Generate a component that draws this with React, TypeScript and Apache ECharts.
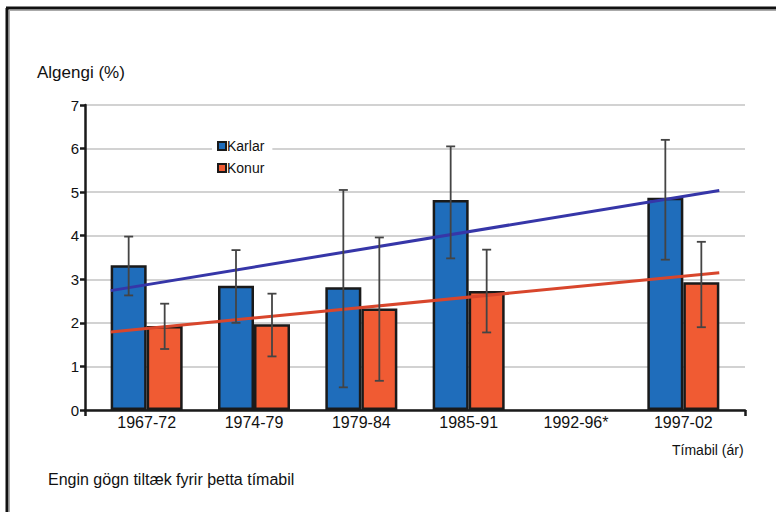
import React, { useEffect, useRef } from "react";
import * as echarts from "echarts";

const categories = ["1967-72", "1974-79", "1979-84", "1985-91", "1992-96*", "1997-02"];
const karlar = [3.32, 2.85, 2.82, 4.82, null, 4.87];
const konur = [1.93, 1.97, 2.33, 2.73, null, 2.93];
const karlarLow = [2.63, 2.0, 0.52, 3.48, null, 3.45];
const karlarHigh = [3.98, 3.67, 5.05, 6.05, null, 6.2];
const konurLow = [1.4, 1.23, 0.67, 1.78, null, 1.9];
const konurHigh = [2.44, 2.67, 3.96, 3.68, null, 3.86];
const trendX = [0.165, 5.835];
const trendKarlar = [2.74, 5.04];
const trendKonur = [1.79, 3.15];
const yTicks = [0, 1, 2, 3, 4, 5, 6, 7];

const FONT = "'Liberation Sans', Arial, sans-serif";
const BLUE = "#1f6dbb";
const ORANGE = "#f05b33";

function errData(low: (number | null)[], high: (number | null)[]) {
  const out: any[] = [];
  low.forEach((l, i) => {
    if (l != null && high[i] != null) out.push([i, l, high[i]]);
  });
  return out;
}

function makeErr(offset: number) {
  return (params: any, api: any) => {
    const i = api.value(0);
    const lo = api.coord([i, api.value(1)]);
    const hi = api.coord([i, api.value(2)]);
    const x = lo[0] + offset;
    const cap = 4.5;
    const style = { stroke: "#444", lineWidth: 1.8 };
    return {
      type: "group",
      children: [
        { type: "line", shape: { x1: x, y1: lo[1], x2: x, y2: hi[1] }, style },
        { type: "line", shape: { x1: x - cap, y1: lo[1], x2: x + cap, y2: lo[1] }, style },
        { type: "line", shape: { x1: x - cap, y1: hi[1], x2: x + cap, y2: hi[1] }, style },
      ],
    };
  };
}

export default function App() {
  const ref = useRef<HTMLDivElement>(null);
  useEffect(() => {
    if (!ref.current) return;
    const chart = echarts.init(ref.current, null, { renderer: "svg" });
    const option: any = {
      animation: false,
      backgroundColor: "#fff",
      textStyle: { fontFamily: FONT },
      grid: [
        { left: 93, right: 39, top: 105, bottom: 102 },
        { left: 85, right: 31, top: 105, bottom: 102 },
      ],
      xAxis: [
        {
          type: "category",
          gridIndex: 0,
          data: categories,
          axisLine: { show: false },
          axisTick: { show: false },
          axisLabel: { fontSize: 16, color: "#111", margin: 4, fontFamily: FONT },
        },
        {
          type: "value",
          gridIndex: 1,
          min: 0,
          max: 1,
          interval: 1,
          axisLine: { show: true, lineStyle: { color: "#1a1a1a", width: 2.5 } },
          axisTick: { show: true, length: 6, lineStyle: { color: "#1a1a1a", width: 2.5 } },
          axisLabel: { show: false },
          splitLine: { show: false },
        },
        { type: "value", gridIndex: 0, min: 0, max: 6, show: false },
      ],
      yAxis: [
        {
          type: "value",
          gridIndex: 1,
          min: 0,
          max: 7,
          interval: 1,
          axisLine: { show: true, lineStyle: { color: "#1a1a1a", width: 2.5 } },
          axisTick: { show: true, length: 5, lineStyle: { color: "#1a1a1a", width: 2.5 } },
          axisLabel: {
            fontSize: 15,
            color: "#111",
            margin: 6,
            fontFamily: FONT,
            formatter: (v: number) => (yTicks.includes(v) ? String(v) : ""),
          },
          splitLine: { show: true, lineStyle: { color: "#d2d2d2", width: 2 } },
        },
        { type: "value", gridIndex: 0, min: 0, max: 7, show: false },
      ],
      legend: {
        orient: "vertical",
        left: 212,
        top: 136,
        padding: [3, 8, 3, 5],
        itemWidth: 8,
        itemHeight: 8,
        itemGap: 8,
        icon: "rect",
        backgroundColor: "#fff",
        textStyle: { fontSize: 14, color: "#111", fontFamily: FONT, padding: [0, 0, 0, -4] },
        data: ["Karlar", "Konur"],
      },
      series: [
        {
          name: "Karlar",
          type: "bar",
          xAxisIndex: 0,
          yAxisIndex: 1,
          data: karlar.map((v) => (v == null ? "-" : v)),
          barWidth: 36,
          barGap: "0%",
          itemStyle: { color: BLUE, borderColor: "#1a1a1a", borderWidth: 2.5 },
          z: 2,
        },
        {
          name: "Konur",
          type: "bar",
          xAxisIndex: 0,
          yAxisIndex: 1,
          data: konur.map((v) => (v == null ? "-" : v)),
          barWidth: 36,
          barGap: "0%",
          itemStyle: { color: ORANGE, borderColor: "#1a1a1a", borderWidth: 2.5 },
          z: 2,
        },
        {
          name: "trendKarlar",
          type: "line",
          xAxisIndex: 2,
          yAxisIndex: 1,
          data: trendX.map((x, i) => [x, trendKarlar[i]]),
          symbol: "none",
          lineStyle: { color: "#3636a8", width: 3 },
          z: 3,
        },
        {
          name: "trendKonur",
          type: "line",
          xAxisIndex: 2,
          yAxisIndex: 1,
          data: trendX.map((x, i) => [x, trendKonur[i]]),
          symbol: "none",
          lineStyle: { color: "#d8462c", width: 3 },
          z: 3,
        },
        {
          name: "errKarlar",
          type: "custom",
          xAxisIndex: 0,
          yAxisIndex: 1,
          renderItem: makeErr(-18),
          data: errData(karlarLow, karlarHigh),
          z: 4,
        },
        {
          name: "errKonur",
          type: "custom",
          xAxisIndex: 0,
          yAxisIndex: 1,
          renderItem: makeErr(18),
          data: errData(konurLow, konurHigh),
          z: 4,
        },
      ],
      graphic: [
        { type: "line", shape: { x1: 6, y1: 8, x2: 776, y2: 8 }, style: { stroke: "#111", lineWidth: 3 } },
        { type: "line", shape: { x1: 7, y1: 8, x2: 7, y2: 512 }, style: { stroke: "#111", lineWidth: 3 } },
        { type: "line", shape: { x1: 9, y1: 10.5, x2: 776, y2: 10.5 }, style: { stroke: "#aaa", lineWidth: 1 } },
        { type: "line", shape: { x1: 9.5, y1: 10, x2: 9.5, y2: 512 }, style: { stroke: "#aaa", lineWidth: 1 } },
        {
          type: "text",
          left: 37,
          top: 64,
          style: { text: "Algengi (%)", fontSize: 17, fill: "#111", fontFamily: FONT },
        },
        {
          type: "text",
          left: 672,
          top: 443,
          style: { text: "Tímabil (ár)", fontSize: 14, fill: "#111", fontFamily: FONT },
        },
        {
          type: "text",
          left: 48,
          top: 471,
          style: { text: "Engin gögn tiltæk fyrir þetta tímabil", fontSize: 16, fill: "#111", fontFamily: FONT },
        },
      ],
    };
    chart.setOption(option);
    return () => chart.dispose();
  }, []);
  return (
    <div
      ref={ref}
      style={{ position: "fixed", left: 0, top: 0, width: 776, height: 512, background: "#fff" }}
    />
  );
}
